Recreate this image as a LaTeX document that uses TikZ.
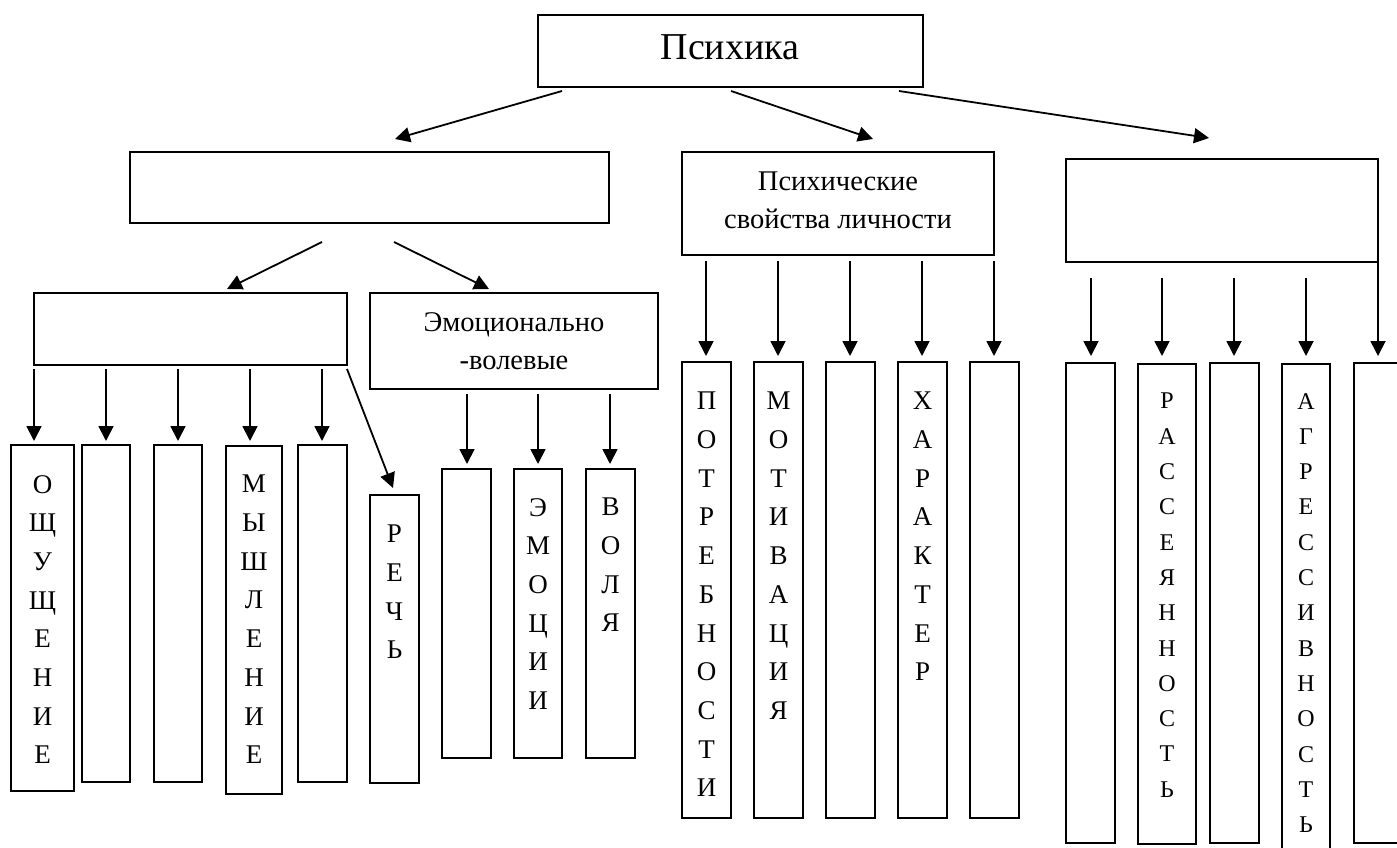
\documentclass[tikz,border=0pt]{standalone}
\usepackage{fontspec}
\setmainfont{Liberation Serif}
\usetikzlibrary{arrows.meta,calc}
\newcommand{\rectnode}[5]{\node[box, minimum width={#4-#2}, minimum height={#5-#3}] (#1) at ({(#2+#4)/2},{(#3+#5)/2}) {};}
\begin{document}
\begin{tikzpicture}[x=1pt,y=-1pt,
  box/.style={draw, line width=1.8pt, inner sep=0pt, outer sep=0pt},
  arr/.style={line width=1.8pt, -{Triangle[length=15pt,width=15pt]}},
  vlet/.style={anchor=north, inner sep=0pt, align=center, font=\fontsize{27}{38.7}\selectfont},
  vlets/.style={anchor=north, inner sep=0pt, align=center, font=\fontsize{24}{35.3}\selectfont},
  htxt/.style={anchor=north, inner sep=0pt, align=center, font=\fontsize{28.5}{38}\selectfont},
  ttxt/.style={anchor=base, inner sep=0pt, font=\fontsize{38}{40}\selectfont}]
\fill[white] (0,0) rectangle (1397,848);
\useasboundingbox (0,0) rectangle (1397,848);

% level 0 / 1
\rectnode{top}{538}{15}{923}{87}
\node[ttxt] (ttop) at (730,60) {Психика};
\rectnode{l1}{130}{152}{609}{223}
\rectnode{m1}{682}{152}{994}{255}
\node[htxt] (tm1) at (838,172) {Психические\\свойства личности};
\rectnode{r1}{1066}{159}{1378}{262}

% level 2
\rectnode{l2}{34}{293}{347}{365}
\rectnode{em}{370}{293}{658}{389}
\node[htxt] (tem) at (514,312) {Эмоционально\\-волевые};

% bottom-left boxes
\rectnode{b1}{11}{445}{74}{791}
\rectnode{b2}{82}{445}{130}{782}
\rectnode{b3}{154}{445}{202}{782}
\rectnode{b4}{226}{446}{282}{794}
\rectnode{b5}{298}{445}{347}{782}
\rectnode{b6}{370}{495}{419}{783}
\node[vlet] (tb1) at (42.5,475) {О\\Щ\\У\\Щ\\Е\\Н\\И\\Е};
\node[vlet] (tb4) at (254,475) {М\\Ы\\Ш\\Л\\Е\\Н\\И\\Е};
\node[vlet] (tb6) at (394.5,525) {Р\\Е\\Ч\\Ь};

% emotional boxes
\rectnode{e1}{442}{469}{491}{758}
\rectnode{e2}{514}{469}{562}{758}
\rectnode{e3}{586}{469}{635}{758}
\node[vlet] (te2) at (538,498) {Э\\М\\О\\Ц\\И\\И};
\node[vlet] (te3) at (610.5,498) {В\\О\\Л\\Я};

% middle boxes
\rectnode{m1a}{682}{362}{731}{818}
\rectnode{m1b}{754}{362}{803}{818}
\rectnode{m1c}{826}{362}{875}{818}
\rectnode{m1d}{898}{362}{947}{818}
\rectnode{m1e}{970}{362}{1019}{818}
\node[vlet] (tma) at (706.5,392) {П\\О\\Т\\Р\\Е\\Б\\Н\\О\\С\\Т\\И};
\node[vlet] (tmb) at (778.5,392) {М\\О\\Т\\И\\В\\А\\Ц\\И\\Я};
\node[vlet] (tmd) at (922.5,392) {Х\\А\\Р\\А\\К\\Т\\Е\\Р};

% right boxes
\rectnode{r1a}{1066}{363}{1115}{843}
\rectnode{r1b}{1138}{364}{1196}{844}
\rectnode{r1c}{1210}{363}{1259}{843}
\rectnode{r1d}{1282}{364}{1330}{862}
\rectnode{r1e}{1354}{363}{1403}{843}
\node[vlets] (trb) at (1167,393) {Р\\А\\С\\С\\Е\\Я\\Н\\Н\\О\\С\\Т\\Ь};
\node[vlets] (trd) at (1306,393) {А\\Г\\Р\\Е\\С\\С\\И\\В\\Н\\О\\С\\Т\\Ь};

% arrows from top
\draw[arr] ($(top.south west)+(24,4)$) -- ($(l1.north west)+(265,-13)$);
\draw[arr] ($(top.south west)+(193,4)$) -- ($(m1.north west)+(191,-13)$);
\draw[arr] ($(top.south east)+(-24,4)$) -- ($(r1.north west)+(143,-21)$);

% arrows from l1
\draw[arr] ($(l1.south west)+(192,19)$) -- ($(l2.north west)+(193,-4)$);
\draw[arr] ($(l1.south west)+(264,19)$) -- ($(em.north west)+(119,-4)$);

% arrows from l2
\draw[arr] ($(l2.south west)+(0,4)$) -- ($(b1.north west)+(23,-4)$);
\draw[arr] ($(l2.south west)+(72,4)$) -- ($(b2.north west)+(24,-4)$);
\draw[arr] ($(l2.south west)+(144,4)$) -- ($(b3.north west)+(24,-4)$);
\draw[arr] ($(l2.south west)+(216,4)$) -- ($(b4.north west)+(24,-5)$);
\draw[arr] ($(l2.south west)+(288,4)$) -- ($(b5.north west)+(24,-4)$);
\draw[arr] ($(l2.south east)+(0,4)$) -- ($(b6.north west)+(23,-7)$);

% arrows from em
\draw[arr] ($(em.south west)+(97,5)$) -- ($(e1.north west)+(25,-5)$);
\draw[arr] ($(em.south west)+(168,5)$) -- ($(e2.north west)+(24,-5)$);
\draw[arr] ($(em.south west)+(240,5)$) -- ($(e3.north west)+(24,-5)$);

% arrows from m1
\draw[arr] ($(m1.south west)+(24,6)$) -- ($(m1a.north west)+(24,-6)$);
\draw[arr] ($(m1.south west)+(96,6)$) -- ($(m1b.north west)+(24,-6)$);
\draw[arr] ($(m1.south west)+(168,6)$) -- ($(m1c.north west)+(24,-6)$);
\draw[arr] ($(m1.south west)+(240,6)$) -- ($(m1d.north west)+(24,-6)$);
\draw[arr] ($(m1.south west)+(312,6)$) -- ($(m1e.north west)+(24,-6)$);

% arrows from r1
\draw[arr] ($(r1.south west)+(25,16)$) -- ($(r1a.north west)+(25,-7)$);
\draw[arr] ($(r1.south west)+(96,16)$) -- ($(r1b.north west)+(24,-8)$);
\draw[arr] ($(r1.south west)+(168,16)$) -- ($(r1c.north west)+(24,-7)$);
\draw[arr] ($(r1.south west)+(240,16)$) -- ($(r1d.north west)+(24,-8)$);
\draw[arr] (r1.south east) -- ($(r1e.north west)+(24,-7)$);
\end{tikzpicture}
\end{document}
